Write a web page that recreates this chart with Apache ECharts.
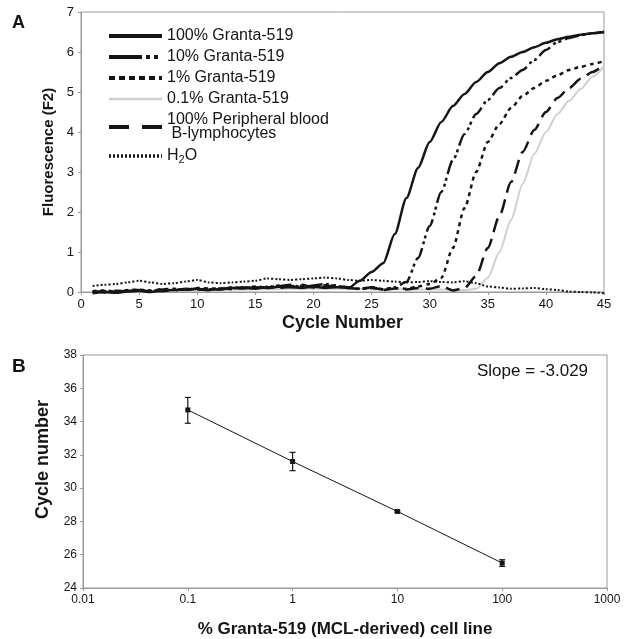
<html>
<head>
<meta charset="utf-8"/>
<title>Granta-519 qPCR</title>
<style>
  body { margin: 0; padding: 0; background: #fff; }
  #chart { width: 630px; height: 639px; }
</style>
<script src="https://cdn.jsdelivr.net/npm/echarts@6/dist/echarts.min.js"></script>
</head>
<body>
<div id="chart"></div>
<script>
  // panel A: amplification curves, cycles 1..45
  var cycles = [1,2,3,4,5,6,7,8,9,10,11,12,13,14,15,16,17,18,19,20,21,22,23,24,25,
                26,27,28,29,30,31,32,33,34,35,36,37,38,39,40,41,42,43,44,45];
  var g100 = [-0.03,0.00,-0.02,0.01,0.03,0.00,0.04,0.05,0.06,0.08,0.05,0.07,0.10,0.09,0.12,0.10,0.13,0.12,0.10,0.14,0.10,0.12,0.10,0.28,0.50,
              0.72,1.45,2.35,3.10,3.75,4.25,4.65,4.95,5.25,5.50,5.72,5.88,6.00,6.12,6.23,6.32,6.38,6.43,6.47,6.50];
  var g10 = [0.00,0.02,0.00,0.03,0.05,0.04,0.02,0.06,0.05,0.09,0.07,0.06,0.10,0.12,0.08,0.13,0.15,0.18,0.12,0.16,0.20,0.14,0.12,0.08,0.10,
             0.06,0.12,0.25,0.85,1.65,2.50,3.30,3.95,4.45,4.80,5.10,5.35,5.55,5.80,6.05,6.25,6.35,6.42,6.47,6.50];
  var g1 = [0.02,0.04,0.01,0.05,0.06,0.03,0.07,0.08,0.05,0.10,0.09,0.08,0.12,0.10,0.14,0.11,0.16,0.13,0.15,0.12,0.17,0.14,0.10,0.08,0.12,
            0.07,0.10,0.08,0.14,0.20,0.35,1.10,2.10,3.00,3.75,4.20,4.60,4.90,5.10,5.28,5.42,5.55,5.63,5.70,5.77];
  var g01 = [0.00,0.01,0.02,0.02,0.03,0.03,0.04,0.04,0.05,0.05,0.05,0.06,0.06,0.06,0.07,0.07,0.07,0.08,0.08,0.08,0.08,0.08,0.08,0.08,0.07,
             0.07,0.07,0.07,0.06,0.06,0.06,0.05,0.05,0.08,0.35,1.00,1.80,2.70,3.45,4.00,4.45,4.78,5.08,5.38,5.65];
  var pbl = [0.01,-0.01,0.03,0.02,0.05,0.01,0.06,0.04,0.08,0.06,0.05,0.09,0.07,0.11,0.09,0.12,0.10,0.14,0.18,0.11,0.13,0.17,0.10,0.07,0.12,
             0.05,0.09,0.06,0.10,0.08,0.15,0.04,0.10,0.40,1.10,1.90,2.75,3.50,4.05,4.50,4.85,5.10,5.33,5.50,5.68];
  var h2o = [0.15,0.18,0.20,0.24,0.28,0.24,0.20,0.22,0.26,0.30,0.24,0.22,0.24,0.26,0.28,0.34,0.32,0.30,0.32,0.34,0.36,0.34,0.30,0.28,0.30,
             0.28,0.26,0.24,0.25,0.27,0.25,0.24,0.27,0.22,0.14,0.11,0.08,0.09,0.10,0.07,0.05,0.01,0.00,-0.01,-0.03];

  // panel B: standard curve
  var pct = [0.1, 1, 10, 100];
  var ct = [34.7, 31.6, 28.6, 25.5];
  var ctLow = [33.9, 31.05, 28.55, 25.3];
  var ctHigh = [35.45, 32.15, 28.65, 25.7];

  var FONT = '"Liberation Sans", Arial, sans-serif';
  var AXIS = '#9a9a9a';
  var INK = '#151515';

  function pairs(xs, ys) {
    return xs.map(function (x, i) { return [x, ys[i]]; });
  }

  function curve(name, values, style, z) {
    return {
      name: name,
      type: 'line',
      xAxisIndex: 0,
      yAxisIndex: 0,
      symbol: 'none',
      smooth: 0.25,
      smoothMonotone: 'x',
      clip: false,
      z: z,
      data: pairs(cycles, values),
      lineStyle: style,
      itemStyle: {color: style.color}
    };
  }

  var chart = echarts.init(document.getElementById('chart'));

  var option = {
    backgroundColor: '#fff',
    animation: false,
    textStyle: {fontFamily: FONT},
    grid: [
      {left: 81, top: 12, width: 523, height: 280, show: true, borderColor: AXIS, borderWidth: 1, outerBoundsMode: 'none'},
      {left: 83, top: 355, width: 524, height: 233, show: true, borderColor: AXIS, borderWidth: 1, outerBoundsMode: 'none'}
    ],
    legend: {
      orient: 'vertical',
      left: 102,
      top: 23,
      itemWidth: 53,
      itemHeight: 14,
      itemGap: 5,
      itemStyle: {opacity: 0},
      textStyle: {
        fontFamily: FONT, fontSize: 16, color: INK, lineHeight: 14,
        rich: {
          t: {fontFamily: FONT, fontSize: 16, color: INK, lineHeight: 18},
          s: {fontFamily: FONT, fontSize: 11, color: INK, verticalAlign: 'bottom'}
        }
      },
      formatter: function (name) {
        return name === 'H2O' ? '{t|H}{s|2}{t|O}' : name;
      },
      data: [
        {name: '100% Granta-519', lineStyle: {width: 4}},
        {name: '10% Granta-519', lineStyle: {width: 4, type: [33, 4, 4, 4, 4, 4]}},
        {name: '1% Granta-519', lineStyle: {width: 4, type: [6, 4]}},
        {name: '0.1% Granta-519', lineStyle: {width: 2.5}},
        {name: '100% Peripheral blood\n B-lymphocytes', lineStyle: {width: 4, type: [20, 13]}},
        {name: 'H2O', lineStyle: {width: 3.5, type: [2, 2]}}
      ]
    },
    xAxis: [
      {
        type: 'value', gridIndex: 0, min: 0, max: 45, interval: 5,
        name: 'Cycle Number', nameLocation: 'middle', nameGap: 22,
        nameTextStyle: {fontFamily: FONT, fontSize: 18, fontWeight: 'bold', color: INK},
        axisLine: {lineStyle: {color: AXIS}},
        axisTick: {show: true, length: 3, lineStyle: {color: AXIS}},
        axisLabel: {fontFamily: FONT, fontSize: 13, color: INK, margin: 6},
        splitLine: {show: false}
      },
      {
        type: 'log', gridIndex: 1, logBase: 10, min: 0.01, max: 1000,
        name: '% Granta-519 (MCL-derived) cell line', nameLocation: 'middle', nameGap: 33,
        nameTextStyle: {fontFamily: FONT, fontSize: 17, fontWeight: 'bold', color: INK},
        axisLine: {lineStyle: {color: AXIS}},
        axisTick: {show: true, length: 3, lineStyle: {color: AXIS}},
        axisLabel: {
          fontFamily: FONT, fontSize: 12, color: INK, margin: 6,
          formatter: function (v) { return String(parseFloat(v.toPrecision(6))); }
        },
        splitLine: {show: false},
        minorTick: {show: false}
      }
    ],
    yAxis: [
      {
        type: 'value', gridIndex: 0, min: 0, max: 7, interval: 1,
        name: 'Fluorescence (F2)', nameLocation: 'middle', nameGap: 24, nameRotate: 90,
        nameTextStyle: {fontFamily: FONT, fontSize: 15, fontWeight: 'bold', color: INK},
        axisLine: {show: true, lineStyle: {color: AXIS}},
        axisTick: {show: true, length: 3, lineStyle: {color: AXIS}},
        axisLabel: {fontFamily: FONT, fontSize: 13, color: INK, margin: 7},
        splitLine: {show: false}
      },
      {
        type: 'value', gridIndex: 1, min: 24, max: 38, interval: 2,
        name: 'Cycle number', nameLocation: 'middle', nameGap: 31, nameRotate: 90,
        nameTextStyle: {fontFamily: FONT, fontSize: 18, fontWeight: 'bold', color: INK, padding: [0, 0, 0, 24]},
        axisLine: {show: true, lineStyle: {color: AXIS}},
        axisTick: {show: true, length: 3, lineStyle: {color: AXIS}},
        axisLabel: {fontFamily: FONT, fontSize: 12, color: INK, margin: 6},
        splitLine: {show: false}
      }
    ],
    graphic: [
      {type: 'text', left: 12, top: 14, style: {text: 'A', font: 'bold 18px ' + FONT, fill: INK}},
      {type: 'text', left: 12, top: 357, style: {text: 'B', font: 'bold 19px ' + FONT, fill: INK}},
      {type: 'text', left: 477, top: 363, style: {text: 'Slope = -3.029', font: '17px ' + FONT, fill: INK}}
    ],
    series: [
      curve('100% Granta-519', g100, {color: INK, width: 2.5, type: 'solid'}, 6),
      curve('10% Granta-519', g10, {color: INK, width: 2.5, type: [14, 4, 3, 3, 3, 4]}, 5),
      curve('1% Granta-519', g1, {color: INK, width: 2.5, type: [4, 4]}, 4),
      curve('0.1% Granta-519', g01, {color: '#cfcfcf', width: 2, type: 'solid'}, 2),
      curve('100% Peripheral blood\n B-lymphocytes', pbl, {color: INK, width: 2.5, type: [14, 7]}, 3),
      curve('H2O', h2o, {color: INK, width: 2, type: [2, 2]}, 3),
      {
        name: 'standard curve',
        type: 'line',
        xAxisIndex: 1,
        yAxisIndex: 1,
        symbol: 'rect',
        symbolSize: 5,
        data: pairs(pct, ct),
        lineStyle: {color: INK, width: 1},
        itemStyle: {color: INK}
      },
      {
        name: 'error',
        type: 'custom',
        xAxisIndex: 1,
        yAxisIndex: 1,
        encode: {x: 0, y: [1, 2]},
        data: pct.map(function (p, i) { return [p, ctLow[i], ctHigh[i]]; }),
        renderItem: function (params, api) {
          var x = api.value(0);
          var lo = api.coord([x, api.value(1)]);
          var hi = api.coord([x, api.value(2)]);
          var w = 3;
          var st = {stroke: INK, lineWidth: 1.2};
          return {
            type: 'group',
            children: [
              {type: 'line', shape: {x1: lo[0], y1: lo[1], x2: hi[0], y2: hi[1]}, style: st},
              {type: 'line', shape: {x1: lo[0] - w, y1: lo[1], x2: lo[0] + w, y2: lo[1]}, style: st},
              {type: 'line', shape: {x1: hi[0] - w, y1: hi[1], x2: hi[0] + w, y2: hi[1]}, style: st}
            ]
          };
        }
      }
    ]
  };

  chart.setOption(option);
</script>
</body>
</html>
